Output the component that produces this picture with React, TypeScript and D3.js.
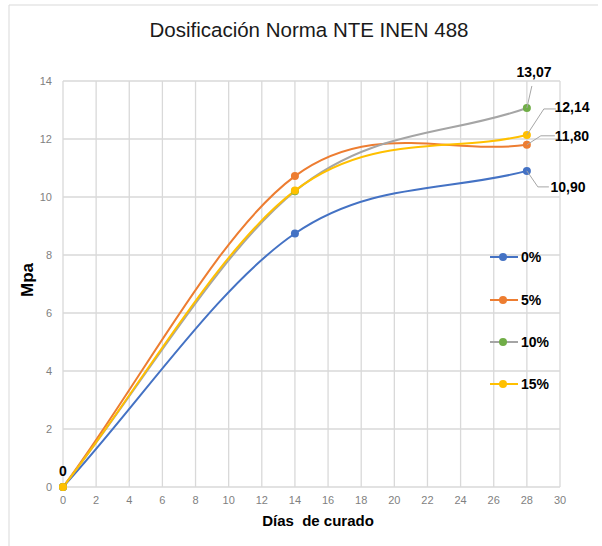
import React from "react";
import * as d3 from "d3";

const days = [0, 14, 28];
const seriesNames = ["0%", "5%", "10%", "15%"];
const s0 = [0, 8.74, 10.9];
const s5 = [0, 10.72, 11.8];
const s10 = [0, 10.2, 13.07];
const s15 = [0, 10.22, 12.14];
const lineColors = ["#4472C4", "#ED7D31", "#A5A5A5", "#FFC000"];
const markerColors = ["#4472C4", "#ED7D31", "#70AD47", "#FFC000"];
const xTicks = d3.range(0, 31, 2);
const yTicks = d3.range(0, 15, 2);
const endLabels = ["10,90", "11,80", "13,07", "12,14"];

const W = 602;
const H = 546;

// Excel-like smoothed line: interior tangents (P[i+1]-P[i-1])/6, end control points at 1/3 chord
function smoothPath(pts: [number, number][]): string {
  const p = d3.path();
  const n = pts.length;
  p.moveTo(pts[0][0], pts[0][1]);
  for (let i = 0; i < n - 1; i++) {
    const a = pts[i];
    const b = pts[i + 1];
    let c1: [number, number];
    let c2: [number, number];
    if (i === 0) c1 = [a[0] + (b[0] - a[0]) / 3, a[1] + (b[1] - a[1]) / 3];
    else {
      const prev = pts[i - 1];
      c1 = [a[0] + (b[0] - prev[0]) / 6, a[1] + (b[1] - prev[1]) / 6];
    }
    if (i === n - 2) c2 = [b[0] - (b[0] - a[0]) / 3, b[1] - (b[1] - a[1]) / 3];
    else {
      const next = pts[i + 2];
      c2 = [b[0] - (next[0] - a[0]) / 6, b[1] - (next[1] - a[1]) / 6];
    }
    p.bezierCurveTo(c1[0], c1[1], c2[0], c2[1], b[0], b[1]);
  }
  return p.toString();
}

export default function App() {
  const x = d3.scaleLinear().domain([0, 30]).range([63, 560]);
  const y = d3.scaleLinear().domain([0, 14]).range([487, 81]);
  const values = [s0, s5, s10, s15];

  const font = "'Liberation Sans', Arial, sans-serif";
  const labelPos = [
    { lx: 568, ly: 187, path: (px: number, py: number) => `M${px},${py} L${px + 11},${py + 16} L${px + 22},${py + 16}` },
    { lx: 572, ly: 136, path: (px: number, py: number) => `M${px},${py} L${px + 14},${py - 9} L${px + 28},${py - 9}` },
    { lx: 534, ly: 72, path: (px: number, py: number) => `M${px},${py} L${px + 5},${py - 22}` },
    { lx: 572, ly: 107, path: (px: number, py: number) => `M${px},${py} L${px + 17},${py - 26} L${px + 29},${py - 26}` },
  ];
  const legendY = [257, 300, 342, 384];

  return (
    <svg width={W} height={H} style={{ position: "absolute", left: 0, top: 0 }}>
      <rect x={0} y={0} width={W} height={H} fill="#fff" />
      <line x1={9} y1={5} x2={598} y2={5} stroke="#d9d9d9" />
      <line x1={9} y1={5} x2={9} y2={H} stroke="#d9d9d9" />
      <text x={309} y={37} textAnchor="middle" fontFamily={font} fontSize={20.5} fill="#1a1a1a">
        Dosificación Norma NTE INEN 488
      </text>
      {xTicks.map((t) => (
        <line key={"gx" + t} x1={x(t)} x2={x(t)} y1={y(14)} y2={y(0)} stroke="#d9d9d9" strokeWidth={1.3} />
      ))}
      {yTicks.map((t) => (
        <line key={"gy" + t} x1={x(0)} x2={x(30)} y1={y(t)} y2={y(t)} stroke="#d9d9d9" strokeWidth={1.3} />
      ))}
      {xTicks.map((t) => (
        <text key={"tx" + t} x={x(t)} y={504} textAnchor="middle" fontFamily={font} fontSize={11} fill="#7f7f7f">
          {t}
        </text>
      ))}
      {yTicks.map((t) => (
        <text key={"ty" + t} x={52} y={y(t) + 4} textAnchor="end" fontFamily={font} fontSize={11} fill="#7f7f7f">
          {t}
        </text>
      ))}
      <text x={318} y={526} textAnchor="middle" fontFamily={font} fontSize={15} fontWeight="bold" fill="#000" style={{ whiteSpace: "pre" }}>
        Días  de curado
      </text>
      <text
        transform={`translate(33,280) rotate(-90)`}
        textAnchor="middle"
        fontFamily={font}
        fontSize={17}
        fontWeight="bold"
        fill="#000"
      >
        Mpa
      </text>
      {values.map((v, i) => (
        <path
          key={"l" + i}
          d={smoothPath(v.map((d, j) => [x(days[j]), y(d)] as [number, number]))}
          fill="none"
          stroke={lineColors[i]}
          strokeWidth={2}
        />
      ))}
      {values.map((v, i) =>
        v.map((d, j) => (
          <circle key={"m" + i + "-" + j} cx={x(days[j])} cy={y(d)} r={4} fill={markerColors[i]} />
        ))
      )}
      {values.map((v, i) => {
        const px = x(days[2]);
        const py = y(v[2]);
        const lp = labelPos[i];
        return (
          <g key={"lab" + i}>
            <path d={lp.path(px, py)} fill="none" stroke="#a6a6a6" strokeWidth={1} />
            <text x={lp.lx} y={lp.ly + 5} textAnchor="middle" fontFamily={font} fontSize={14} fontWeight="bold" fill="#000">
              {endLabels[i]}
            </text>
          </g>
        );
      })}
      <text x={x(0)} y={476} textAnchor="middle" fontFamily={font} fontSize={14} fontWeight="bold" fill="#000">
        0
      </text>
      {seriesNames.map((n, i) => (
        <g key={"lg" + i}>
          <line x1={490} x2={518} y1={legendY[i]} y2={legendY[i]} stroke={lineColors[i]} strokeWidth={2} />
          <circle cx={503} cy={legendY[i]} r={4} fill={markerColors[i]} />
          <text x={521} y={legendY[i] + 5} fontFamily={font} fontSize={14} fontWeight="bold" fill="#000">
            {n}
          </text>
        </g>
      ))}
    </svg>
  );
}
